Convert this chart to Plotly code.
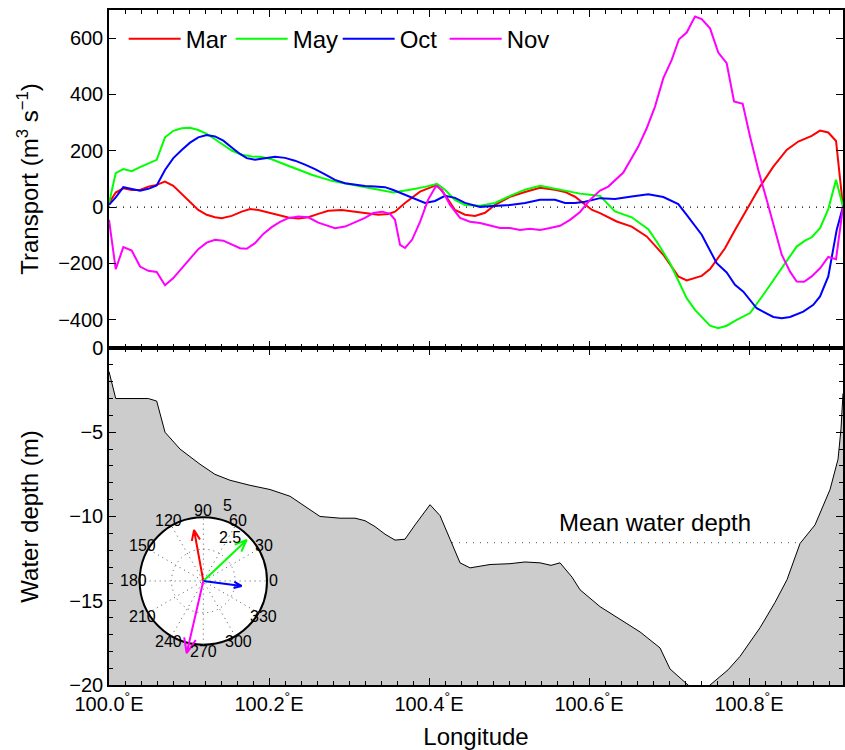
import math
import plotly.graph_objects as go

FONT = "Liberation Sans, Arial, Helvetica, sans-serif"

# ---------------- data ----------------
months = ["Mar", "May", "Oct", "Nov"]
colors = ["#ff0000", "#00ff00", "#0000ff", "#ff00ff"]

mar_lon = [100.0, 100.0084, 100.0179, 100.0284, 100.0388, 100.0491, 100.0596, 100.0700, 100.0804, 100.0909,
           100.1013, 100.1116, 100.1221, 100.1325, 100.1409, 100.1534, 100.1659, 100.1763, 100.1866, 100.1991,
           100.2116, 100.2241, 100.2366, 100.2491, 100.2616, 100.2741, 100.2909, 100.3075, 100.3241, 100.3366,
           100.3491, 100.3575, 100.3700, 100.3888, 100.4100, 100.4200, 100.4325, 100.4450, 100.4575, 100.4700,
           100.4825, 100.5013, 100.5200, 100.5388, 100.5575, 100.5700, 100.5825, 100.5950, 100.6038, 100.6138,
           100.6346, 100.6534, 100.6721, 100.6929, 100.7116, 100.7221, 100.7409, 100.7513, 100.7700, 100.7825,
           100.7991, 100.8138, 100.8304, 100.8471, 100.8616, 100.8784, 100.8888, 100.8991, 100.9088, 100.9175]
mar_val = [14, 52, 67, 61, 61, 73, 79, 91, 76, 47,
           16, -10, -27, -36, -39, -31, -16, -7, -10, -19,
           -30, -37, -40, -36, -24, -13, -10, -16, -24, -27,
           -24, -16, 15, 55, 79, 44, -10, -27, -31, -20,
           8, 37, 54, 69, 62, 54, 37, 8, -10, -21,
           -51, -69, -104, -169, -246, -260, -244, -220, -146, -81,
           2, 73, 144, 203, 233, 253, 272, 265, 235, 2]

may_lon = [100.0, 100.0084, 100.0179, 100.0284, 100.0388, 100.0491, 100.0596, 100.0700, 100.0804, 100.0909,
           100.1013, 100.1116, 100.1221, 100.1325, 100.1429, 100.1534, 100.1659, 100.1784, 100.1909, 100.2034,
           100.2159, 100.2284, 100.2409, 100.2534, 100.2659, 100.2784, 100.2909, 100.3034, 100.3159, 100.3284,
           100.3409, 100.3554, 100.3763, 100.3950, 100.4100, 100.4200, 100.4325, 100.4450, 100.4638, 100.4825,
           100.5013, 100.5200, 100.5388, 100.5513, 100.5638, 100.5763, 100.5888, 100.6013, 100.6138, 100.6325,
           100.6534, 100.6741, 100.6846, 100.7013, 100.7221, 100.7325, 100.7513, 100.7616, 100.7721, 100.7846,
           100.8013, 100.8179, 100.8388, 100.8596, 100.8700, 100.8784, 100.8888, 100.8991, 100.9088, 100.9175]
may_val = [14, 121, 135, 128, 142, 154, 168, 248, 271, 280,
           282, 274, 260, 241, 221, 201, 186, 180, 178, 170,
           156, 142, 128, 115, 104, 94, 87, 80, 73, 67,
           60, 52, 62, 72, 83, 62, 26, 8, 5, 15,
           40, 62, 76, 69, 62, 55, 48, 44, 40, -15,
           -36, -78, -122, -199, -323, -365, -421, -430, -421, -400,
           -376, -311, -223, -140, -119, -107, -75, -7, 97, 2]

oct_lon = [100.0, 100.0084, 100.0179, 100.0284, 100.0388, 100.0491, 100.0596, 100.0700, 100.0804, 100.0909,
           100.1013, 100.1116, 100.1221, 100.1325, 100.1429, 100.1534, 100.1638, 100.1721, 100.1825, 100.1950,
           100.2075, 100.2200, 100.2325, 100.2450, 100.2575, 100.2700, 100.2825, 100.2950, 100.3075, 100.3200,
           100.3325, 100.3450, 100.3554, 100.3763, 100.3950, 100.4075, 100.4200, 100.4325, 100.4450, 100.4638,
           100.4825, 100.5013, 100.5200, 100.5388, 100.5575, 100.5700, 100.5825, 100.5950, 100.6138, 100.6325,
           100.6534, 100.6741, 100.6929, 100.7116, 100.7221, 100.7409, 100.7596, 100.7721, 100.7825, 100.7929,
           100.8096, 100.8304, 100.8409, 100.8513, 100.8679, 100.8804, 100.8888, 100.8991, 100.9096, 100.9175]
oct_val = [8, 35, 71, 64, 58, 65, 77, 132, 174, 203,
           229, 248, 256, 251, 236, 212, 189, 174, 168, 174,
           179, 175, 165, 151, 135, 116, 97, 85, 79, 75,
           73, 71, 61, 37, 15, 22, 40, 33, 15, 1,
           5, 8, 15, 26, 26, 15, 15, 19, 32, 29,
           38, 46, 36, 11, -27, -98, -199, -232, -276, -300,
           -359, -390, -394, -390, -371, -347, -317, -246, -81, 2]

nov_lon = [100.0, 100.0084, 100.0179, 100.0284, 100.0388, 100.0491, 100.0596, 100.0700, 100.0804, 100.0909,
           100.1013, 100.1116, 100.1221, 100.1325, 100.1429, 100.1534, 100.1638, 100.1721, 100.1825, 100.1929,
           100.2034, 100.2138, 100.2241, 100.2366, 100.2491, 100.2616, 100.2741, 100.2825, 100.2950, 100.3075,
           100.3200, 100.3304, 100.3416, 100.3513, 100.3575, 100.3638, 100.3700, 100.3788, 100.3888, 100.3988,
           100.4088, 100.4163, 100.4263, 100.4388, 100.4513, 100.4638, 100.4763, 100.4888, 100.5013, 100.5138,
           100.5263, 100.5388, 100.5513, 100.5638, 100.5763, 100.5888, 100.6013, 100.6138, 100.6241, 100.6429,
           100.6616, 100.6721, 100.6825, 100.6929, 100.7034, 100.7125, 100.7221, 100.7325, 100.7409, 100.7513,
           100.7616, 100.7721, 100.7813, 100.7921, 100.8013, 100.8116, 100.8221, 100.8325, 100.8409, 100.8513,
           100.8596, 100.8688, 100.8784, 100.8888, 100.8991, 100.9088, 100.9175]
nov_val = [-45, -220, -142, -154, -211, -226, -230, -277, -252, -217,
           -181, -149, -126, -116, -119, -134, -146, -148, -128, -95,
           -71, -52, -39, -33, -36, -55, -66, -75, -69, -53,
           -38, -21, -16, -24, -45, -134, -145, -116, -52, 26,
           75, 61, 8, -38, -52, -56, -66, -74, -74, -81,
           -77, -81, -74, -66, -45, -17, 26, 59, 73, 123,
           215, 280, 357, 458, 523, 596, 620, 677, 668, 635,
           549, 511, 375, 367, 251, 132, 26, -81, -169, -229,
           -264, -265, -246, -217, -177, -185, 2]

bathy_lon = [100.0, 100.0084, 100.0491, 100.0596, 100.0700, 100.0888, 100.1138, 100.1325, 100.1513, 100.1763,
             100.2013, 100.2263, 100.2513, 100.2638, 100.2888, 100.3075, 100.3200, 100.3325, 100.3450, 100.3575,
             100.3700, 100.3825, 100.4013, 100.4138, 100.4263, 100.4388, 100.4513, 100.4763, 100.5013, 100.5200,
             100.5388, 100.5525, 100.5638, 100.5788, 100.5888, 100.6138, 100.6388, 100.6638, 100.6888, 100.7013,
             100.7238, 100.7375, 100.7513, 100.7738, 100.7888, 100.8138, 100.8325, 100.8475, 100.8638, 100.8825,
             100.9013, 100.9113, 100.9150, 100.9175]
bathy_depth = [-1.4, -3.0, -3.0, -3.15, -5.0, -6.0, -6.9, -7.5, -7.85, -8.15,
               -8.4, -8.8, -9.6, -10.0, -10.1, -10.1, -10.25, -10.6, -11.05, -11.4,
               -11.35, -10.5, -9.3, -9.95, -11.35, -12.75, -13.05, -12.85, -12.8, -12.7,
               -12.75, -12.9, -12.75, -13.6, -14.35, -15.35, -16.1, -16.85, -17.8, -19.05,
               -20.0, -20.5, -20.0, -19.1, -18.3, -16.6, -15.1, -13.75, -11.6, -10.5,
               -8.4, -6.6, -4.8, -2.7]
mean_depth = -11.55

# compass (inset): magnitude and direction (deg) of mean transport
cmp_mag = [4.07, 4.69, 3.03, 5.82]
cmp_dir = [100.3, 43.4, -7.4, 257.0]

lon_ticks = [100.0, 100.2, 100.4, 100.6, 100.8]
lon_ticktext = ["100.0<sup>°</sup>E", "100.2<sup>°</sup>E", "100.4<sup>°</sup>E",
                "100.6<sup>°</sup>E", "100.8<sup>°</sup>E"]
transport_ticks = [-400, -200, 0, 200, 400, 600]
depth_ticks = [-20, -15, -10, -5, 0]
polar_angles = [0, 30, 60, 90, 120, 150, 180, 210, 240, 270, 300, 330]
polar_rticks = [2.5, 5]

lon_min, lon_max = 100.0, 100.9175

# ---------------- figure ----------------
fig = go.Figure()

# top panel
fig.add_trace(go.Scatter(x=[lon_min, lon_max], y=[0, 0], mode="lines",
                         line=dict(color="black", width=1.2, dash="1px,6px"),
                         showlegend=False, hoverinfo="skip", xaxis="x", yaxis="y"))
for name, lon, val, col in zip(months, [mar_lon, may_lon, oct_lon, nov_lon],
                               [mar_val, may_val, oct_val, nov_val], colors):
    fig.add_trace(go.Scatter(x=lon, y=val, mode="lines", name=name,
                             line=dict(color=col, width=2), xaxis="x", yaxis="y"))

# bottom panel
fig.add_trace(go.Scatter(x=[lon_min, lon_max], y=[mean_depth, mean_depth], mode="lines",
                         line=dict(color="#777777", width=1.2, dash="1px,6px"),
                         showlegend=False, hoverinfo="skip", xaxis="x2", yaxis="y2"))
fig.add_trace(go.Scatter(x=bathy_lon + [lon_max, lon_min], y=bathy_depth + [-30, -30],
                         mode="lines", fill="toself", fillcolor="#cccccc",
                         line=dict(width=0, color="#cccccc"),
                         showlegend=False, hoverinfo="skip", xaxis="x2", yaxis="y2"))
fig.add_trace(go.Scatter(x=bathy_lon, y=bathy_depth, mode="lines",
                         line=dict(color="black", width=1),
                         showlegend=False, xaxis="x2", yaxis="y2"))

# inset compass grid
sx, sy = [], []
for a in polar_angles[:6]:
    r = math.radians(a)
    sx += [-polar_rticks[-1] * math.cos(r), polar_rticks[-1] * math.cos(r), None]
    sy += [-polar_rticks[-1] * math.sin(r), polar_rticks[-1] * math.sin(r), None]
fig.add_trace(go.Scatter(x=sx, y=sy, mode="lines",
                         line=dict(color="#555555", width=1, dash="1px,4px"),
                         showlegend=False, hoverinfo="skip", xaxis="x3", yaxis="y3"))

# compass arrows (MATLAB compass arrow shape)
head = [(0, 0), (1, 0), (0.8, 0.08), (1, 0), (0.8, -0.08)]
for mag, ang, col in zip(cmp_mag, cmp_dir, colors):
    zr = mag * math.cos(math.radians(ang))
    zi = mag * math.sin(math.radians(ang))
    ax_ = [p * zr - q * zi for p, q in head]
    ay_ = [p * zi + q * zr for p, q in head]
    fig.add_trace(go.Scatter(x=ax_, y=ay_, mode="lines", line=dict(color=col, width=2),
                             showlegend=False, hoverinfo="skip", xaxis="x3", yaxis="y3"))

rmax = polar_rticks[-1]
shapes = [
    dict(type="circle", xref="x3", yref="y3", x0=-rmax, y0=-rmax, x1=rmax, y1=rmax,
         fillcolor="white", line=dict(color="black", width=2), layer="below"),
]
for rr in polar_rticks[:-1]:
    shapes.append(dict(type="circle", xref="x3", yref="y3", x0=-rr, y0=-rr, x1=rr, y1=rr,
                       line=dict(color="#555555", width=1, dash="1px,4px"), layer="below"))

annotations = []
for a in polar_angles:
    r = math.radians(a)
    annotations.append(dict(x=1.1 * rmax * math.cos(r), y=1.1 * rmax * math.sin(r),
                            xref="x3", yref="y3", text=str(a), showarrow=False,
                            xanchor="center", yanchor="middle",
                            font=dict(size=16, family=FONT, color="black")))
for rr in polar_rticks:
    rl = rr + 0.125
    annotations.append(dict(x=rl * math.cos(math.radians(82)), y=rl * math.sin(math.radians(82)),
                            xref="x3", yref="y3", text=("%g" % rr), showarrow=False,
                            xanchor="left", yanchor="bottom", xshift=9,
                            font=dict(size=16, family=FONT, color="black")))
annotations.append(dict(x=100.6825, y=-10.36, xref="x2", yref="y2", text="Mean water depth",
                        showarrow=False, xanchor="center", yanchor="middle",
                        font=dict(size=24, family=FONT, color="black")))

axis_common = dict(showline=True, linecolor="black", linewidth=1.5, mirror="ticks",
                   ticks="inside", ticklen=7, tickwidth=1, tickcolor="black",
                   showgrid=False, zeroline=False, tickfont=dict(size=20, family=FONT))

split = 0.4993
fig.update_layout(
    width=845, height=750,
    margin=dict(l=109, r=2, t=10, b=65, pad=0, autoexpand=False),
    paper_bgcolor="white", plot_bgcolor="rgba(0,0,0,0)",
    font=dict(family=FONT, size=20, color="black"),
    showlegend=True,
    legend=dict(orientation="h", x=0.02, y=0.99, xanchor="left", yanchor="top",
                bgcolor="rgba(0,0,0,0)", font=dict(size=24, family=FONT),
                itemwidth=52, entrywidth=40, entrywidthmode="pixels"),
    xaxis=dict(domain=[0, 1], anchor="y", range=[lon_min, lon_max], tickvals=lon_ticks,
               showticklabels=False,
               minor=dict(dtick=0.02, tick0=100.0, ticks="inside", ticklen=4, tickcolor="black"),
               **axis_common),
    yaxis=dict(domain=[split, 1], anchor="x", range=[-500, 700], tickvals=transport_ticks,
               title=dict(text="Transport (m<sup>3</sup> s<sup>−1</sup>)", standoff=13,
                          font=dict(size=24)),
               **axis_common),
    xaxis2=dict(domain=[0, 1], anchor="y2", range=[lon_min, lon_max], tickvals=lon_ticks,
                ticktext=lon_ticktext,
                minor=dict(dtick=0.02, tick0=100.0, ticks="inside", ticklen=4, tickcolor="black"),
                title=dict(text="Longitude", font=dict(size=24), standoff=14),
                **axis_common),
    yaxis2=dict(domain=[0, split], anchor="x2", range=[-20, 0], tickvals=depth_ticks,
                minor=dict(dtick=1, tick0=0, ticks="inside", ticklen=4, tickcolor="black"),
                title=dict(text="Water depth (m)", standoff=24, font=dict(size=24)),
                **axis_common),
    xaxis3=dict(domain=[0.0105, 0.2465], anchor="y3", range=[-6.8, 6.8], visible=False,
                fixedrange=True),
    yaxis3=dict(domain=[0.0258, 0.2824], anchor="x3", range=[-6.8, 6.8], visible=False,
                fixedrange=True),
    shapes=shapes,
    annotations=annotations,
)

fig.write_html("out.html")
